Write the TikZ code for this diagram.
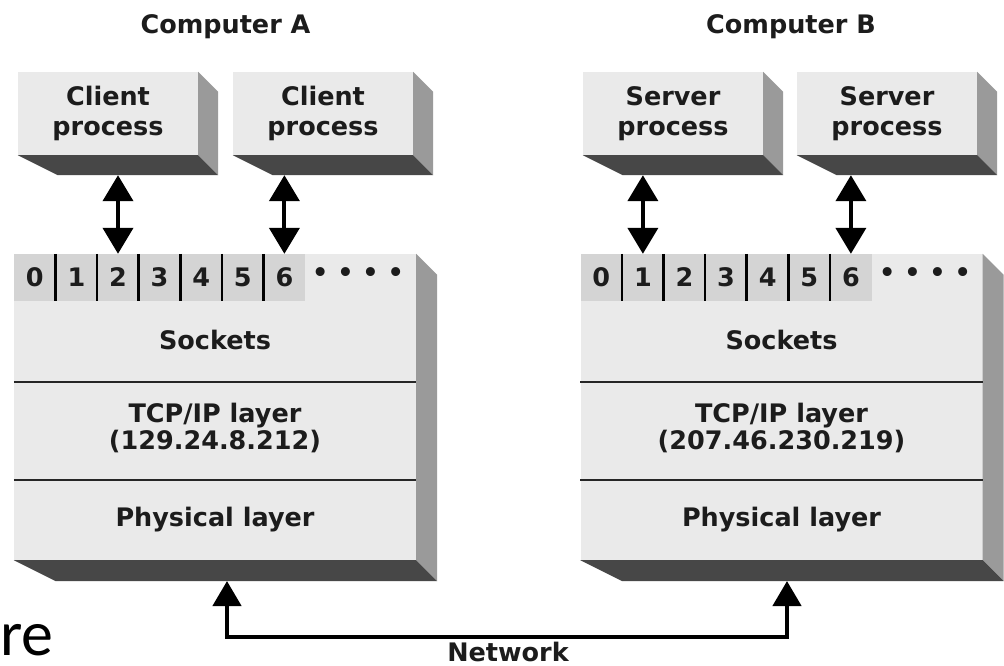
\documentclass[tikz,border=0pt]{standalone}
\usepackage{fontspec}
\setmainfont{DejaVu Sans}
\newfontfamily\capfont{Carlito}
\usetikzlibrary{arrows.meta}

\definecolor{faceC}{HTML}{EAEAEA}
\definecolor{sideC}{HTML}{9A9A9A}
\definecolor{baseC}{HTML}{474747}
\definecolor{cellC}{HTML}{D4D4D4}
\definecolor{inkC}{HTML}{1C1C1C}

\newcommand\lblfont{\bfseries\fontsize{25.5}{29.5}\selectfont}

% right side and bottom faces of an extruded box: node name, depth
\newcommand\extrude[2]{%
  \fill[sideC] (#1.north east) -- ++(#2,#2) -- ([shift={(#2,#2)}]#1.south east) -- (#1.south east) -- cycle;
  \fill[baseC] (#1.south west) -- (#1.south east) -- ++(#2,#2) -- ([shift={(2*#2,#2)}]#1.south west) -- cycle;}

\tikzset{
  lbl/.style={font=\lblfont, text=inkC, align=center, inner sep=0pt},
  procbox/.style={lbl, rectangle, fill=faceC, minimum width=180pt, minimum height=83pt},
  stackbox/.style={rectangle, fill=faceC, minimum width=402pt, minimum height=306pt, inner sep=0pt},
  cell/.style={lbl, rectangle, fill=cellC, minimum width=41.6pt, minimum height=47pt},
  divider/.style={draw=black, line width=2.6pt},
  sepline/.style={draw=black!85, line width=2pt},
  dblarrow/.style={draw=black, line width=4pt,
    {Triangle[width=30pt,length=26pt]}-{Triangle[width=30pt,length=26pt]}},
  netarrow/.style={draw=black, line width=4.5pt, line join=miter,
    {Triangle[width=28pt,length=25pt]}-{Triangle[width=28pt,length=25pt]}},
}

\begin{document}
\begin{tikzpicture}[x=1pt, y=-1pt]
\useasboundingbox[fill=white] (0,0) rectangle (1004,665);

% headings
\node[lbl] (compA) at (225.5,27) {Computer A};
\node[lbl] (compB) at (791,27) {Computer B};

% process boxes
\node[procbox] (c1) at (108,113.5) {Client\\process};
\node[procbox] (c2) at (323,113.5) {Client\\process};
\node[procbox] (s1) at (673,113.5) {Server\\process};
\node[procbox] (s2) at (887,113.5) {Server\\process};
\foreach \n in {c1,c2,s1,s2} {\extrude{\n}{20}}
\foreach \n in {c1,c2,s1,s2} {\coordinate (\n b) at ([yshift=-20pt]\n.south);}

% protocol stacks
\node[stackbox] (stA) at (215,407) {};
\node[stackbox] (stB) at (781.5,407) {};
\extrude{stA}{21}
\extrude{stB}{21}

% socket number strips
\foreach \i in {0,...,6} {
  \node[cell] (a\i) at ({34.8+41.6*\i},277.5) {\i};
  \node[cell] (b\i) at ({601.3+41.6*\i},277.5) {\i};
}
\foreach \i in {1,...,6} {
  \draw[divider] (a\i.north west) -- (a\i.south west);
  \draw[divider] (b\i.north west) -- (b\i.south west);
}
\node[lbl] (dotsA) at (358,275) {• • • •};
\node[lbl] (dotsB) at (925,275) {• • • •};

% layer separators
\foreach \s in {stA,stB} {
  \draw[sepline] ([yshift=-128pt]\s.north west) -- ([yshift=-128pt]\s.north east);
  \draw[sepline] ([yshift=-226pt]\s.north west) -- ([yshift=-226pt]\s.north east);
}

% layer labels
\node[lbl] (sockA) at (215,340) {Sockets};
\node[lbl, font=\bfseries\fontsize{25.5}{27.5}\selectfont] (tcpA) at (215,428) {TCP/IP layer\\(129.24.8.212)};
\node[lbl] (phyA) at (215,520) {Physical layer};
\node[lbl] (sockB) at (781.5,340) {Sockets};
\node[lbl, font=\bfseries\fontsize{25.5}{27.5}\selectfont] (tcpB) at (781.5,428) {TCP/IP layer\\(207.46.230.219)};
\node[lbl] (phyB) at (781.5,520) {Physical layer};

% process <-> socket connections
\draw[dblarrow] (a2.north |- c1b) -- (a2.north);
\draw[dblarrow] (a6.north |- c2b) -- (a6.north);
\draw[dblarrow] (b1.north |- s1b) -- (b1.north);
\draw[dblarrow] (b6.north |- s2b) -- (b6.north);

% network link between the physical layers
\coordinate (na) at (227,581);
\coordinate (nb) at (787,581);
\draw[netarrow] (na) -- ++(0,56) -| (nb);
\node[lbl, anchor=base, text depth=0pt] (net) at (508,661) {Network};

% caption fragment
\node[font=\capfont\fontsize{64}{64}\selectfont, anchor=base west, inner sep=0pt] (frag) at (0,655) {re};
\end{tikzpicture}
\end{document}
